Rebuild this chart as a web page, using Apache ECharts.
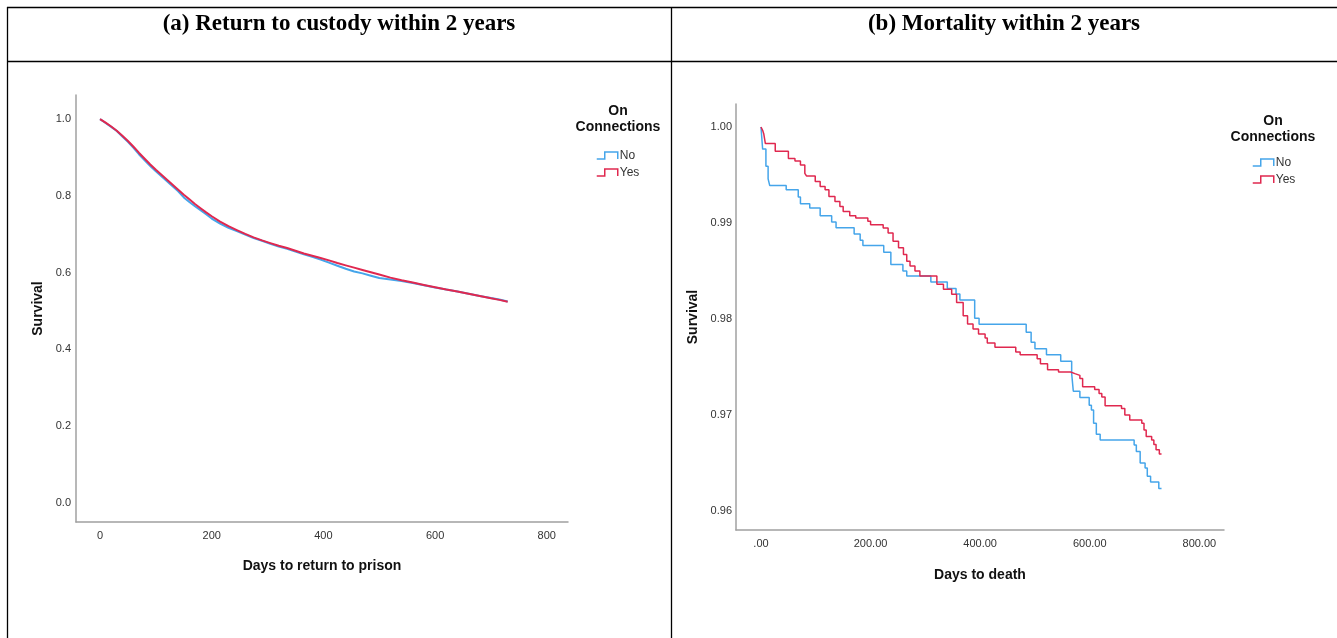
<!DOCTYPE html>
<html>
<head>
<meta charset="utf-8">
<script src="https://cdn.jsdelivr.net/npm/echarts@6/dist/echarts.min.js"></script>
<style>
  html, body { margin: 0; padding: 0; background: #fff; }
  #main { width: 1337px; height: 638px; }
</style>
</head>
<body>
<div id="main"></div>
<script>
// 面板 (a): 返回羁押 — 生存曲线
var leftDays = [0, 10, 20, 30, 40, 50, 60, 70, 80, 90, 100, 110, 120, 130, 140, 150, 160, 170, 180, 190, 200,
  215, 230, 245, 260, 275, 290, 305, 320, 335, 350, 365, 380, 395, 410, 425, 440, 455, 470, 485, 500,
  520, 540, 560, 580, 600, 620, 640, 660, 680, 700, 715, 730];
var leftNo = [1.000, 0.990, 0.980, 0.969, 0.955, 0.941, 0.925, 0.908, 0.893, 0.878, 0.864, 0.851, 0.838, 0.825, 0.812, 0.796, 0.784, 0.773, 0.763, 0.752, 0.741,
  0.728, 0.717, 0.708, 0.699, 0.690, 0.683, 0.675, 0.668, 0.662, 0.655, 0.648, 0.641, 0.634, 0.626, 0.618, 0.610, 0.603, 0.598, 0.592, 0.586,
  0.582, 0.578, 0.573, 0.567, 0.561, 0.556, 0.551, 0.545, 0.539, 0.534, 0.530, 0.525];
var leftYes = [1.000, 0.991, 0.981, 0.970, 0.957, 0.943, 0.928, 0.912, 0.897, 0.882, 0.868, 0.855, 0.842, 0.829, 0.816, 0.803, 0.791, 0.779, 0.768, 0.757, 0.747,
  0.733, 0.721, 0.711, 0.701, 0.692, 0.684, 0.677, 0.670, 0.664, 0.657, 0.650, 0.644, 0.638, 0.632, 0.625, 0.619, 0.613, 0.607, 0.601, 0.595,
  0.587, 0.580, 0.574, 0.568, 0.562, 0.556, 0.551, 0.545, 0.539, 0.533, 0.529, 0.524];

// 面板 (b): 死亡 — 生存曲线
var rightNoDays = [0, 3, 9, 13, 16, 46, 68, 72, 89, 108, 129, 137, 170, 181, 186, 224, 237, 259, 266, 310, 340, 356, 363, 390, 398,
  484, 493, 500, 521, 547, 567, 570, 582, 599, 603, 607, 612, 619, 681, 685, 692, 701, 705, 711, 726, 731];
var rightNo = [1.0, 0.9977, 0.9959, 0.9946, 0.9939, 0.99345, 0.9927, 0.9920, 0.99155, 0.99076, 0.9901, 0.98951, 0.98886, 0.9882, 0.98765,
  0.98696, 0.98568, 0.98499, 0.98447, 0.98385, 0.98317, 0.9826, 0.98196, 0.98006, 0.97944,
  0.97861, 0.97757, 0.97688, 0.97626, 0.9756, 0.9743, 0.97246, 0.97181, 0.97101, 0.9705, 0.96912, 0.96798, 0.96739,
  0.96687, 0.96619, 0.96498, 0.96446, 0.9636, 0.96301, 0.96232, 0.96232];
var rightYesDays = [0, 3, 5, 8, 26, 50, 62, 72, 80, 83, 99, 108, 117, 124, 135, 144, 150, 162, 173, 195, 200, 223, 232, 241, 251, 260,
  266, 272, 281, 290, 321, 333, 348, 357, 369, 377, 387, 397, 409, 413, 427, 465, 473, 504, 510, 523, 543, 565, 573, 582, 587,
  609, 617, 622, 628, 658, 664, 673, 695, 699, 703, 713, 717, 721, 727, 731];
var rightYes = [1.0, 0.99966, 0.9993, 0.99828, 0.99748, 0.99673, 0.99645, 0.99604, 0.99518, 0.9949, 0.99431, 0.99379, 0.99345, 0.99275,
  0.99224, 0.99172, 0.9912, 0.99076, 0.99051, 0.99017, 0.98982, 0.98948, 0.98896, 0.9881, 0.98741, 0.98672,
  0.98602, 0.98551, 0.98499, 0.98447, 0.98361, 0.9831, 0.98258, 0.98172, 0.98033, 0.97947, 0.97896, 0.97844, 0.978, 0.9775,
  0.97706, 0.97654, 0.97626, 0.97585, 0.97533, 0.97471, 0.97447, 0.9743, 0.97412, 0.97378, 0.97292,
  0.97264, 0.97223, 0.97185, 0.97095, 0.97067, 0.96998, 0.96946, 0.96912, 0.96843, 0.96774, 0.96739, 0.9669, 0.96636, 0.96591, 0.96591];

var leftXTicks = [0, 200, 400, 600, 800];
var leftYTicks = [0, 0.2, 0.4, 0.6, 0.8, 1.0];
var rightXTicks = [0, 200, 400, 600, 800];
var rightYTicks = [0.96, 0.97, 0.98, 0.99, 1.00];

var blue = '#45a5ea';
var red = '#e0284f';
var sans = 'Liberation Sans, Arial, sans-serif';

function pairs(xs, ys) {
  return xs.map(function (x, i) { return [x, ys[i]]; });
}

var myChart = echarts.init(document.getElementById('main'));

function axisBase() {
  return {
    type: 'value',
    axisLine: { show: true, onZero: false, lineStyle: { color: '#a0a0a0', width: 1.5 } },
    axisTick: { show: false },
    splitLine: { show: false },
    nameLocation: 'middle',
    nameTextStyle: { fontFamily: sans, fontSize: 14, fontWeight: 'bold', color: '#111' }
  };
}

function legendIcon(color) {
  return { color: 'rgba(0,0,0,0)', borderColor: color, borderWidth: 1.5 };
}

function makeLegend(left, top) {
  return {
    orient: 'vertical',
    left: left, top: top, padding: 0,
    icon: 'path://M0,7 L8,7 L8,0 L21,0 L21,7',
    itemWidth: 21, itemHeight: 7, itemGap: 4,
    textStyle: { fontFamily: sans, fontSize: 12, color: '#333', padding: [0, 0, 0, -3], lineHeight: 13 },
    data: [
      { name: 'No', itemStyle: legendIcon(blue) },
      { name: 'Yes', itemStyle: legendIcon(red) }
    ]
  };
}

var xl = axisBase(), yl = axisBase(), xr = axisBase(), yr = axisBase();
Object.assign(xl, {
  gridIndex: 0, min: -43, max: 838, name: 'Days to return to prison', nameGap: 37,
  axisLabel: { customValues: leftXTicks, margin: 8, fontFamily: sans, fontSize: 11, color: '#333' }
});
Object.assign(yl, {
  gridIndex: 0, min: -0.05, max: 1.063, name: 'Survival', nameGap: 31,
  axisLabel: { customValues: leftYTicks, margin: 5, fontFamily: sans, fontSize: 11, color: '#333',
    formatter: function (v) { return v.toFixed(1); } }
});
Object.assign(xr, {
  gridIndex: 1, min: -45.6, max: 845, name: 'Days to death', nameGap: 38,
  axisLabel: { customValues: rightXTicks, margin: 8, fontFamily: sans, fontSize: 11, color: '#333',
    formatter: function (v) { return v === 0 ? '.00' : v.toFixed(2); } }
});
Object.assign(yr, {
  gridIndex: 1, min: 0.958, max: 1.0024, name: 'Survival', nameGap: 36,
  axisLabel: { customValues: rightYTicks, margin: 4, fontFamily: sans, fontSize: 11, color: '#333',
    formatter: function (v) { return v.toFixed(2); } }
});

function kmSeries(name, data, color, xi, width, step) {
  return {
    name: name, type: 'line', step: step, showSymbol: false, symbol: 'none',
    xAxisIndex: xi, yAxisIndex: xi,
    lineStyle: { color: color, width: width },
    itemStyle: { color: color },
    data: data
  };
}

var titleFont = 'bold 23px "Liberation Serif", "Times New Roman", serif';
var legendTitleFont = 'bold 14px "Liberation Sans", Arial, sans-serif';

var option = {
  animation: false,
  backgroundColor: '#fff',
  grid: [
    { left: 76, top: 95, width: 492, height: 427 },
    { left: 736, top: 104, width: 488, height: 426 }
  ],
  xAxis: [xl, xr],
  yAxis: [yl, yr],
  legend: [makeLegend(596, 149), makeLegend(1252, 156)],
  graphic: [
    // 表格边框
    { type: 'line', shape: { x1: 7, y1: 7.5, x2: 1337, y2: 7.5 }, style: { stroke: '#000', lineWidth: 1.3 } },
    { type: 'line', shape: { x1: 7, y1: 61.5, x2: 1337, y2: 61.5 }, style: { stroke: '#000', lineWidth: 1.3 } },
    { type: 'line', shape: { x1: 7.5, y1: 7, x2: 7.5, y2: 638 }, style: { stroke: '#000', lineWidth: 1.3 } },
    { type: 'line', shape: { x1: 671.5, y1: 7, x2: 671.5, y2: 638 }, style: { stroke: '#000', lineWidth: 1.3 } },
    // 标题
    { type: 'text', x: 339, y: 24, style: { text: '(a) Return to custody within 2 years', textAlign: 'center', textVerticalAlign: 'middle',
      font: titleFont, fill: '#000' } },
    { type: 'text', x: 1004, y: 24, style: { text: '(b) Mortality within 2 years', textAlign: 'center', textVerticalAlign: 'middle',
      font: titleFont, fill: '#000' } },
    // 图例标题
    { type: 'text', x: 618, y: 119, style: { text: 'On\nConnections', textAlign: 'center', textVerticalAlign: 'middle', lineHeight: 16,
      font: legendTitleFont, fill: '#111' } },
    { type: 'text', x: 1273, y: 129, style: { text: 'On\nConnections', textAlign: 'center', textVerticalAlign: 'middle', lineHeight: 16,
      font: legendTitleFont, fill: '#111' } }
  ],
  series: [
    kmSeries('No', pairs(leftDays, leftNo), blue, 0, 2, false),
    kmSeries('Yes', pairs(leftDays, leftYes), red, 0, 2, false),
    kmSeries('No', pairs(rightNoDays, rightNo), blue, 1, 1.5, 'end'),
    kmSeries('Yes', pairs(rightYesDays, rightYes), red, 1, 1.5, 'end')
  ]
};

myChart.setOption(option);
</script>
</body>
</html>
